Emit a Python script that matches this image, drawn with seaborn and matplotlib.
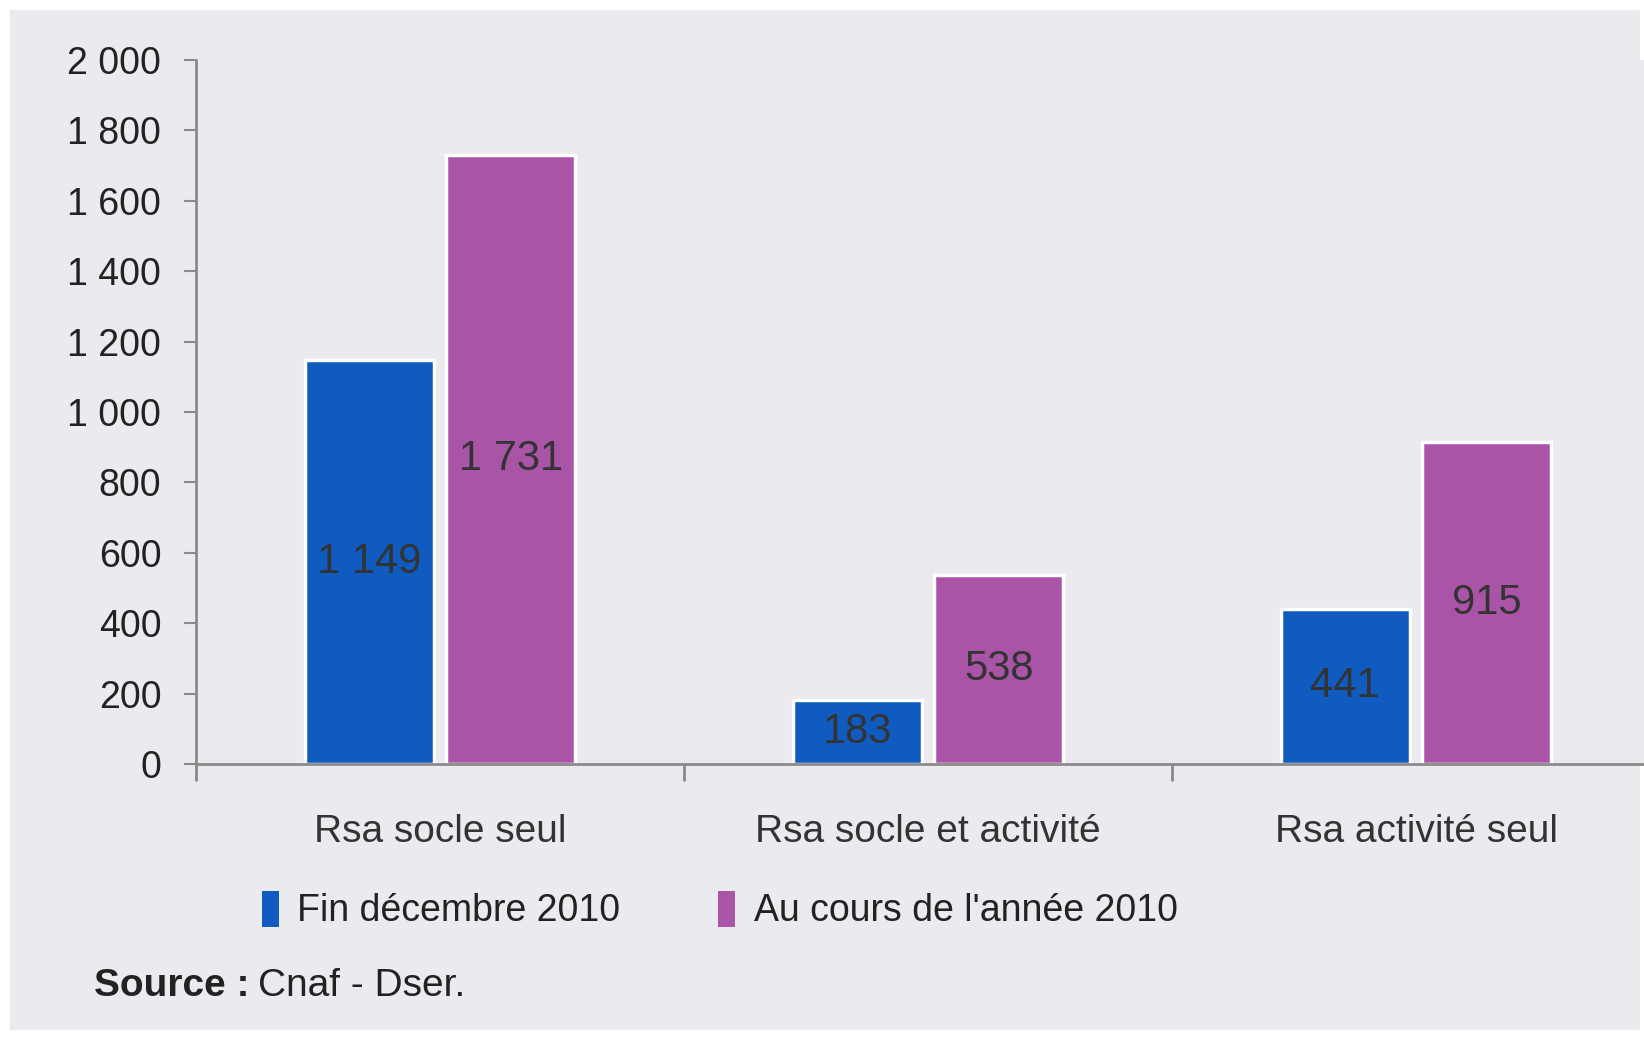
import pandas as pd
import matplotlib
matplotlib.use('Agg')
import matplotlib.pyplot as plt
from matplotlib.patches import Patch, Rectangle
import seaborn as sns

# Data (thousands of households)
categories = ['Rsa socle seul', 'Rsa socle et activité', 'Rsa activité seul']
series_names = ['Fin décembre 2010', "Au cours de l'année 2010"]
fin_decembre = [1149, 183, 441]
cours_annee = [1731, 538, 915]
y_ticks = [0, 200, 400, 600, 800, 1000, 1200, 1400, 1600, 1800, 2000]

colors = {series_names[0]: '#0f5bbf', series_names[1]: '#a954a6'}
bg = '#ebebef'

df = pd.DataFrame({
    'Catégorie': categories * 2,
    'Période': [series_names[0]] * 3 + [series_names[1]] * 3,
    'Valeur': fin_decembre + cours_annee,
})

sns.set_style('white')
plt.rcParams['font.family'] = ['Liberation Sans', 'DejaVu Sans']

fig = plt.figure(figsize=(16.44, 10.37), dpi=100, facecolor='white')
# grey panel with a thin white frame around it
fig.patches.append(Rectangle((10 / 1644, 1 - 1030 / 1037), 1630 / 1644, 1020 / 1037,
                             transform=fig.transFigure, facecolor=bg, edgecolor='none', zorder=-10))

ax = fig.add_axes([196 / 1644, 273 / 1037, 1464 / 1644, 704 / 1037])
ax.set_facecolor(bg)

sns.barplot(data=df, x='Catégorie', y='Valeur', hue='Période', palette=colors,
            width=0.58, gap=0.09, edgecolor='white', linewidth=2.5, saturation=1,
            legend=False, ax=ax)

# value labels centred in the bars
for cont, vals in zip(ax.containers, [fin_decembre, cours_annee]):
    labels = [f'{v:,}'.replace(',', ' ') for v in vals]
    ax.bar_label(cont, labels=labels, label_type='center', fontsize=30, color='#333333')

ax.set_xlim(-0.5, 2.5)
ax.set_ylim(0, 2000)
ax.set_yticks(y_ticks)
ax.set_yticklabels([f'{v:,}'.replace(',', ' ') for v in y_ticks])
ax.set_xlabel('')
ax.set_ylabel('')

for s in ['top', 'right']:
    ax.spines[s].set_visible(False)
for s in ['left', 'bottom']:
    ax.spines[s].set_color('#8a8a8a')
    ax.spines[s].set_linewidth(2)

ax.tick_params(axis='y', left=True, length=9, width=1.5, color='#8a8a8a', pad=16,
               labelsize=27, labelcolor='#222222')
ax.tick_params(axis='x', which='major', bottom=False, length=0, pad=36,
               labelsize=28, labelcolor='#333333')
ax.set_xticks([-0.5, 0.5, 1.5, 2.5], minor=True)
ax.tick_params(axis='x', which='minor', bottom=True, length=12, width=2,
               color='#8a8a8a', direction='out')

handles = [Patch(facecolor=colors[n], edgecolor='none', label=n) for n in series_names]
fig.legend(handles=handles, loc='center left', bbox_to_anchor=(228 / 1644, 1 - 910 / 1037),
           ncol=2, frameon=False, fontsize=27, handlelength=0.45, handleheight=1.1,
           handletextpad=0.5, columnspacing=2.6, labelcolor='#222222')

t1 = fig.text(94 / 1644, 1 - 986 / 1037, 'Source :', fontsize=28, fontweight='bold',
              color='#222222', va='center', ha='left')
fig.canvas.draw()
bb = t1.get_window_extent()
fig.text((bb.x1 + 8) / fig.bbox.width, 1 - 986 / 1037, 'Cnaf - Dser.', fontsize=28,
         color='#222222', va='center', ha='left')

fig.savefig('out.png', dpi=100, facecolor='white')
